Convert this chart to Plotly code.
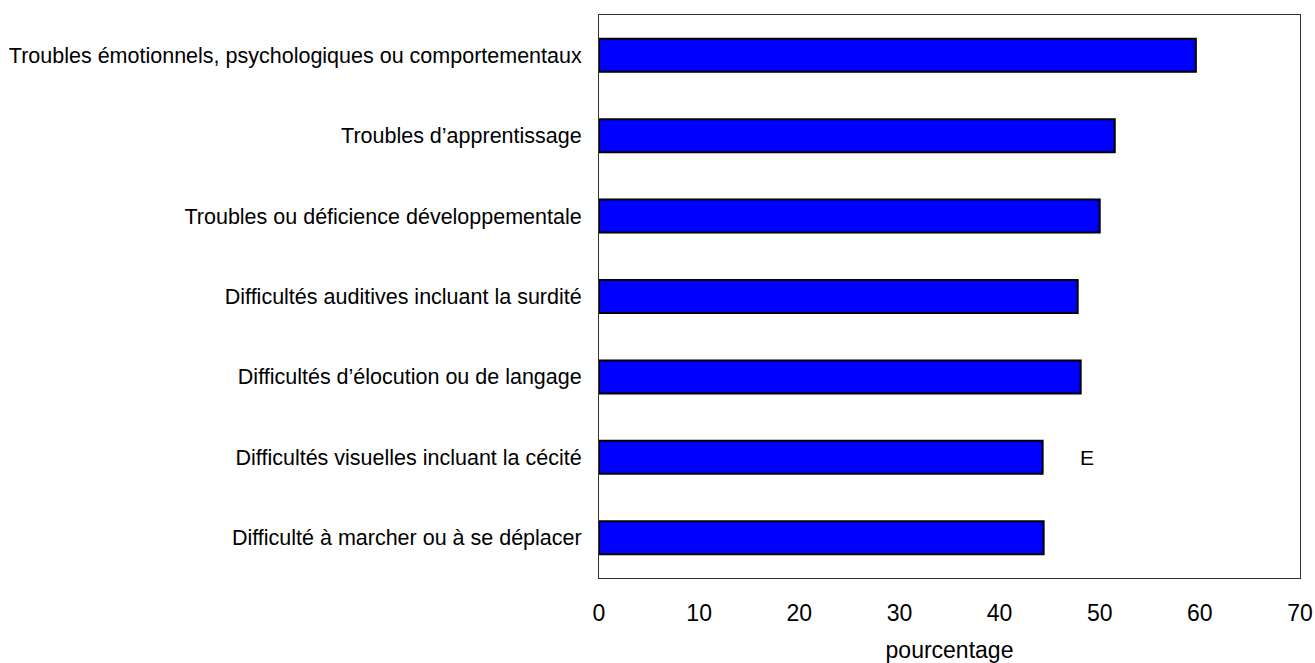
import plotly.graph_objects as go

categories = [
    "Troubles émotionnels, psychologiques ou comportementaux",
    "Troubles d’apprentissage",
    "Troubles ou déficience développementale",
    "Difficultés auditives incluant la surdité",
    "Difficultés d’élocution ou de langage",
    "Difficultés visuelles incluant la cécité",
    "Difficulté à marcher ou à se déplacer",
]
values = [59.6, 51.5, 50.0, 47.8, 48.1, 44.3, 44.4]
flags = ["", "", "", "", "", "E", ""]
x_ticks = [0, 10, 20, 30, 40, 50, 60, 70]

fig = go.Figure()
fig.add_trace(go.Bar(
    y=categories, x=values, orientation="h",
    marker=dict(color="#0000FF", line=dict(color="black", width=2)),
    width=0.41,
))
for cat, v, f in zip(categories, values, flags):
    if f:
        fig.add_annotation(x=v + 4.4, y=cat, text=f, showarrow=False,
                           font=dict(size=21, color="black"))

fig.update_layout(
    width=1315, height=663,
    margin=dict(l=599, r=15, t=15, b=85),
    paper_bgcolor="white", plot_bgcolor="white",
    showlegend=False,
    font=dict(family="Liberation Sans, Arial, sans-serif", size=21.5, color="black"),
    xaxis=dict(range=[0, 70], tickvals=x_ticks, showgrid=False, zeroline=False,
               showline=True, linecolor="#333", linewidth=1, mirror=True,
               ticks="", ticklabelstandoff=14, automargin=False,
               tickfont=dict(size=23),
               title=dict(text="pourcentage", font=dict(size=23), standoff=27)),
    yaxis=dict(categoryorder="array", categoryarray=categories[::-1],
               range=[-0.5, 6.5], automargin=False,
               showgrid=False, zeroline=False, showline=True, linecolor="#333",
               linewidth=1, mirror=True, ticks="", ticklabelstandoff=12,
               tickfont=dict(size=21.5)),
)
fig.write_html(
    "out.html",
    config={"displayModeBar": False},
    post_script="document.body.style.margin='0';document.body.style.overflow='hidden';",
)
